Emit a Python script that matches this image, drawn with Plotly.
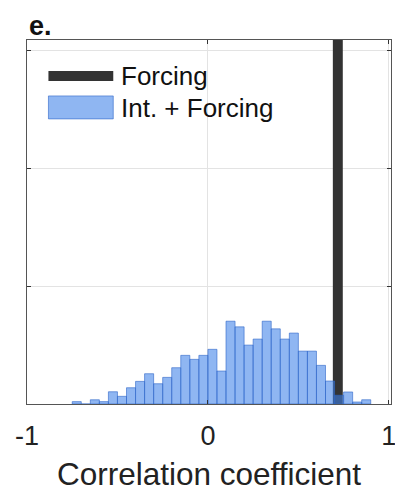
import plotly.graph_objects as go

# Histogram of correlation coefficients (bin width 0.05), relative frequency
bin_centers = [-0.725, -0.675, -0.625, -0.575, -0.525, -0.475, -0.425, -0.375,
               -0.325, -0.275, -0.225, -0.175, -0.125, -0.075, -0.025, 0.025,
               0.075, 0.125, 0.175, 0.225, 0.275, 0.325, 0.375, 0.425,
               0.475, 0.525, 0.575, 0.625, 0.675, 0.725, 0.775, 0.825, 0.875]
frequency = [0.0020, 0.0000, 0.0036, 0.0020, 0.0104, 0.0065, 0.0138, 0.0192,
             0.0257, 0.0172, 0.0226, 0.0308, 0.0413, 0.0379, 0.0413, 0.0464,
             0.0280, 0.0703, 0.0655, 0.0500, 0.0551, 0.0703, 0.0638, 0.0551,
             0.0602, 0.0449, 0.0449, 0.0328, 0.0195, 0.0074, 0.0102, 0.0017, 0.0036]
bin_width = 0.05

# Correlation for the forced-only experiment
forcing_r = 0.718

x_ticks = [-1, 0, 1]
x_tick_labels = ["-1", "0", "1"]
y_ticks = [0, 0.1, 0.2, 0.3]
y_max = 0.309
x_title = "Correlation coefficient"

W, H = 395, 487
ML, MR, MT, MB = 26.5, 3.5, 40, 82.5
FONT = "Liberation Sans, Arial, Helvetica, sans-serif"
BLUE_FILL = "rgba(62,130,232,0.58)"
BLUE_EDGE = "rgba(45,100,200,0.75)"
DARK = "#333333"

fig = go.Figure()
# Forcing correlation: a thick full-height bar, drawn first so the
# translucent histogram sits on top of it
fig.add_trace(go.Bar(
    x=[forcing_r], y=[y_max], width=0.055,
    marker=dict(color=DARK, line=dict(width=0)),
    showlegend=False, hoverinfo="x",
))
fig.add_trace(go.Bar(
    x=bin_centers, y=frequency, width=bin_width,
    marker=dict(color=BLUE_FILL, line=dict(color=BLUE_EDGE, width=0.8)),
    showlegend=False, hoverinfo="x+y",
))

# Legend, drawn in pixel units of the plotting area
pw, ph = W - ML - MR, H - MT - MB


def px_x(p):
    return (p - ML) / pw


def px_y(p):
    return (H - MB - p) / ph


fig.add_shape(type="rect", xref="paper", yref="paper",
              x0=px_x(48), x1=px_x(113), y0=px_y(81), y1=px_y(71),
              fillcolor=DARK, line=dict(width=0), layer="above")
fig.add_shape(type="rect", xref="paper", yref="paper",
              x0=px_x(48), x1=px_x(113), y0=px_y(119), y1=px_y(96),
              fillcolor=BLUE_FILL, line=dict(color=BLUE_EDGE, width=0.8), layer="above")
for label, yc in [("Forcing", 76), ("Int. + Forcing", 108)]:
    fig.add_annotation(text=label, xref="paper", yref="paper",
                       x=px_x(119), y=px_y(yc), xanchor="left", yanchor="middle",
                       showarrow=False, font=dict(family=FONT, size=26, color="#111111"))

# Panel letter
fig.add_annotation(text="<b>e.</b>", xref="paper", yref="paper",
                   x=px_x(26), y=px_y(26), xanchor="left", yanchor="middle",
                   showarrow=False, font=dict(family=FONT, size=27, color="#111111"))

# x-axis title
fig.add_annotation(text=x_title, xref="paper", yref="paper",
                   x=px_x(209.5), y=px_y(475), xanchor="center", yanchor="middle",
                   showarrow=False, font=dict(family=FONT, size=31.5, color="#222222"))

axis_common = dict(
    showline=True, linecolor="#555555", linewidth=1, mirror="ticks",
    ticks="inside", ticklen=4, tickcolor="#333333",
    showgrid=True, gridcolor="#E3E3E3", gridwidth=1, zeroline=False,
    automargin=False,
)
fig.update_xaxes(range=[-1, 1.012], tickvals=x_ticks, ticktext=x_tick_labels,
                 tickfont=dict(family=FONT, size=27, color="#222222"),
                 ticklabelstandoff=8, ticklabeloverflow="allow",
                 **axis_common)
fig.update_yaxes(range=[0, y_max], tickvals=y_ticks, showticklabels=False,
                 **axis_common)

fig.update_layout(
    width=W, height=H, barmode="overlay",
    margin=dict(l=ML, r=MR, t=MT, b=MB, pad=0),
    plot_bgcolor="white", paper_bgcolor="white",
    font=dict(family=FONT),
)

fig.write_html("out.html")
